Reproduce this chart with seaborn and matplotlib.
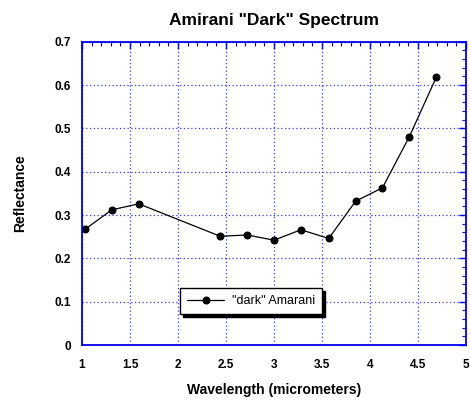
import matplotlib
matplotlib.use("Agg")
import matplotlib.pyplot as plt
import seaborn as sns
import pandas as pd
from matplotlib.ticker import MultipleLocator

wavelength = [1.03, 1.31, 1.59, 2.44, 2.72, 3.00, 3.28, 3.57, 3.85, 4.13, 4.41, 4.69]
reflectance = [0.267, 0.312, 0.326, 0.251, 0.254, 0.242, 0.266, 0.246, 0.332, 0.363, 0.481, 0.618]
series_name = '"dark" Amarani'

sns.set_theme(style="white")
plt.rcParams['font.family'] = ['Liberation Sans', 'DejaVu Sans']
plt.rcParams['font.weight'] = 'bold'
plt.rcParams['text.color'] = 'black'
plt.rcParams['axes.labelcolor'] = 'black'
plt.rcParams['xtick.labelcolor'] = 'black'
plt.rcParams['ytick.labelcolor'] = 'black'

df = pd.DataFrame({"Wavelength": wavelength, "Reflectance": reflectance, "series": series_name})

fig = plt.figure(figsize=(4.7, 4.0), dpi=100)
ax = fig.add_axes([0.1745, 0.1375, 0.817, 0.758])

sns.lineplot(data=df, x="Wavelength", y="Reflectance", hue="series", palette=["black"],
             marker="o", markersize=5, markeredgecolor="black", linewidth=0.9, ax=ax)

ax.set_xlim(1, 5)
ax.set_ylim(0, 0.7)
ax.xaxis.set_minor_locator(MultipleLocator(0.1))
ax.yaxis.set_minor_locator(MultipleLocator(0.02))
ax.set_xticks([1, 1.5, 2, 2.5, 3, 3.5, 4, 4.5, 5])
ax.set_xticklabels(["1", "1.5", "2", "2.5", "3", "3.5", "4", "4.5", "5"])
ax.set_yticks([0, 0.1, 0.2, 0.3, 0.4, 0.5, 0.6, 0.7])
ax.set_yticklabels(["0", "0.1", "0.2", "0.3", "0.4", "0.5", "0.6", "0.7"])

ax.grid(True, which="major", color="#3333ff", linestyle=(0, (1, 2)), linewidth=0.9)
for s in ax.spines.values():
    s.set_color("#0000ee")
    s.set_linewidth(1.3)
ax.tick_params(which="both", direction="in", top=True, right=True, color="#0000ee",
               labelsize=8.5, pad=8, labelcolor="black")
ax.tick_params(axis="x", which="both", pad=10)
ax.tick_params(which="major", length=5, width=1)
ax.tick_params(which="minor", length=3, width=0.8)
for lbl in ax.get_xticklabels() + ax.get_yticklabels():
    lbl.set_fontweight("bold")

ax.set_xlabel("Wavelength (micrometers)", fontsize=10, fontweight="bold", labelpad=9, color="black")
ax.set_ylabel("Reflectance", fontsize=10, fontweight="bold", labelpad=20, color="black")
ax.set_title('Amirani "Dark" Spectrum', fontsize=12.5, fontweight="bold", pad=12, color="black")

handles, labels = ax.get_legend_handles_labels()
leg = ax.legend(handles, labels, loc="center", bbox_to_anchor=(0.44, 0.145),
                frameon=True, fancybox=False,
                shadow={"color": "black", "alpha": 1, "ox": 2, "oy": -2},
                edgecolor="black", fontsize=9, handlelength=3.0, handletextpad=0.6,
                borderpad=0.55)
leg.get_frame().set_linewidth(1.0)
for t in leg.get_texts():
    t.set_fontweight("normal")
    t.set_color("black")

fig.savefig("out.png", dpi=100)
